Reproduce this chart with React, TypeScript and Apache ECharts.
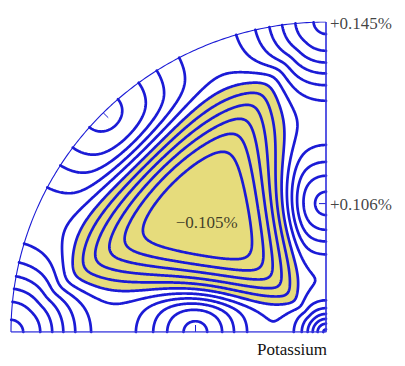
import React, { useEffect, useRef } from "react";
import * as echarts from "echarts";

// ---- values ----
// peaks on the {100} edges of the octant and the [111] minimum (values in %)
const featureNames = ["<100>", "[001]", "[110]", "<011>", "[111]"];
const featureValues = [0.145, 0.145, 0.106, 0.106, -0.105];
const peakWidths = [12.9, 8.9, 15.8, 15.8]; // deg
const peakSharpness = [1.9, 1.5, 1.9, 1.9];
const backgroundValue = 0.008;
const wellRamp = [8, 24]; // deg away from the {100} planes
const wellZWeight = 1.12;
const contourLevels = [0.14, 0.12, 0.1, 0.08, 0.06, 0.04, 0.02, 0, -0.02, -0.04, -0.06, -0.08, -0.1];
const shadedBelowLevel = 0;
const valueLabels = ["+0.145%", "+0.106%", "\u22120.105%"];
const valueLabelDirections = [[0, 1, 0], [0, 1, 1], [1, 1, 1]];
const markedDirections = [[1, 1, 0], [0, 1, 1], [1, 0, 1]];
const materialName = "Potassium";

// ---- geometry ----
const RAD = 180 / Math.PI;
const norm = (d: number[]) => {
  const l = Math.hypot(d[0], d[1], d[2]);
  return [d[0] / l, d[1] / l, d[2] / l];
};
// symmetry copies of each peak
const peakMembers = [
  [[1, 0, 0], [0, 1, 0]],
  [[0, 0, 1]],
  [[1, 1, 0], [1, -1, 0]],
  [[0, 1, 1], [0, 1, -1], [1, 0, 1], [1, 0, -1]],
].map((f) => f.map(norm));
const centres = [[1, 0, 0], [0, 0, 1], [1, 1, 0], [0, 1, 1], [1, 1, 1]].map(norm);

const stereo = (d: number[]) => {
  const n = norm(d);
  return [-n[0] / (1 + n[2]), n[1] / (1 + n[2])];
};
const fromStereo = (u: number, v: number) => {
  const X = -u, Y = v, s = X * X + Y * Y;
  return [(2 * X) / (1 + s), (2 * Y) / (1 + s), (1 - s) / (1 + s)];
};
const peakSum = (k: number, n: number[]) => {
  let s = 0;
  for (const d of peakMembers[k]) {
    const c = Math.min(1, Math.abs(n[0] * d[0] + n[1] * d[1] + n[2] * d[2]));
    const th = Math.acos(c) * RAD;
    s += Math.exp(-Math.pow(th / peakWidths[k], peakSharpness[k]));
  }
  return s;
};
const softplus = (x: number, s: number) => (x / s > 30 ? x : s * Math.log(1 + Math.exp(x / s)));
// how deep into the [111] trough a direction lies (0 on the {100} planes, 1 near [111])
const wellShape = (n: number[]) => {
  const a = Math.abs(n[0]), b = Math.abs(n[1]), c = Math.abs(n[2]) * wellZWeight;
  if (a < 1e-9 || b < 1e-9 || c < 1e-9) return 0;
  const q = 8;
  const m = Math.pow(Math.pow(a, -q) + Math.pow(b, -q) + Math.pow(c, -q), -1 / q);
  const delta = Math.asin(Math.min(1, m)) * RAD;
  const [lo, hi] = wellRamp;
  const h = (softplus(delta - lo, 1.5) - softplus(delta - hi, 0.8)) / (hi - lo);
  return Math.min(1, Math.max(0, h));
};
const basis = (n: number[]) => {
  const h = wellShape(n);
  return [...[0, 1, 2, 3].map((k) => peakSum(k, n) * (1 - h)), -h];
};
const solve = (M: number[][], r: number[]) => {
  const n = r.length;
  const A = M.map((row, i) => [...row, r[i]]);
  for (let c = 0; c < n; c++) {
    let p = c;
    for (let i = c + 1; i < n; i++) if (Math.abs(A[i][c]) > Math.abs(A[p][c])) p = i;
    [A[c], A[p]] = [A[p], A[c]];
    for (let i = 0; i < n; i++) {
      if (i === c) continue;
      const f = A[i][c] / A[c][c];
      for (let j = c; j <= n; j++) A[i][j] -= f * A[c][j];
    }
  }
  return A.map((row, i) => row[n] / row[i]);
};
// amplitudes chosen so that the field equals the values read at the feature centres
const amps = solve(centres.map(basis), featureValues.map((v) => v - backgroundValue));
const field = (u: number, v: number) => {
  const b = basis(fromStereo(u, v));
  let f = backgroundValue;
  for (let k = 0; k < b.length; k++) f += amps[k] * b[k];
  return f;
};

// ---- marching squares ----
const N = 320;
const W = N + 1;
const grid = new Float64Array(W * W);
for (let j = 0; j <= N; j++) for (let i = 0; i <= N; i++) grid[j * W + i] = field(-1 + i / N, j / N);

type Line = { pts: number[][]; closed: boolean };
function traceLevel(L: number): Line[] {
  const nH = N * W;
  const total = nH + W * N;
  const pu = new Float64Array(total), pv = new Float64Array(total);
  const adjA = new Int32Array(total).fill(-1), adjB = new Int32Array(total).fill(-1);
  const s1: number[] = [], s2: number[] = [];
  const val = (i: number, j: number) => grid[j * W + i];
  const H = (i: number, j: number) => {
    const id = j * N + i, a = val(i, j), b = val(i + 1, j), t = (L - a) / (b - a);
    pu[id] = -1 + (i + t) / N; pv[id] = j / N; return id;
  };
  const V = (i: number, j: number) => {
    const id = nH + j * W + i, a = val(i, j), b = val(i, j + 1), t = (L - a) / (b - a);
    pu[id] = -1 + i / N; pv[id] = (j + t) / N; return id;
  };
  const add = (e1: number, e2: number) => {
    const s = s1.length; s1.push(e1); s2.push(e2);
    if (adjA[e1] < 0) adjA[e1] = s; else adjB[e1] = s;
    if (adjA[e2] < 0) adjA[e2] = s; else adjB[e2] = s;
  };
  for (let j = 0; j < N; j++) for (let i = 0; i < N; i++) {
    const a = val(i, j), b = val(i + 1, j), c = val(i + 1, j + 1), d = val(i, j + 1);
    const idx = (a > L ? 1 : 0) | (b > L ? 2 : 0) | (c > L ? 4 : 0) | (d > L ? 8 : 0);
    if (idx === 0 || idx === 15) continue;
    switch (idx) {
      case 1: case 14: add(V(i, j), H(i, j)); break;
      case 2: case 13: add(H(i, j), V(i + 1, j)); break;
      case 3: case 12: add(V(i, j), V(i + 1, j)); break;
      case 4: case 11: add(V(i + 1, j), H(i, j + 1)); break;
      case 6: case 9: add(H(i, j), H(i, j + 1)); break;
      case 7: case 8: add(H(i, j + 1), V(i, j)); break;
      case 5: {
        const m = (a + b + c + d) / 4;
        if (m > L) { add(H(i, j), V(i + 1, j)); add(H(i, j + 1), V(i, j)); }
        else { add(V(i, j), H(i, j)); add(V(i + 1, j), H(i, j + 1)); }
        break;
      }
      case 10: {
        const m = (a + b + c + d) / 4;
        if (m > L) { add(V(i, j), H(i, j)); add(V(i + 1, j), H(i, j + 1)); }
        else { add(H(i, j), V(i + 1, j)); add(H(i, j + 1), V(i, j)); }
        break;
      }
    }
  }
  const used = new Uint8Array(s1.length);
  const out: Line[] = [];
  const walk = (start: number, s: number): Line => {
    const pts = [[pu[start], pv[start]]];
    let cur = start;
    while (s >= 0 && !used[s]) {
      used[s] = 1;
      const nx = s1[s] === cur ? s2[s] : s1[s];
      pts.push([pu[nx], pv[nx]]);
      cur = nx;
      const a = adjA[cur], b = adjB[cur];
      s = a >= 0 && !used[a] ? a : b >= 0 && !used[b] ? b : -1;
    }
    return { pts, closed: cur === start && pts.length > 3 };
  };
  for (let s = 0; s < s1.length; s++) {
    if (used[s]) continue;
    if (adjB[s1[s]] < 0) out.push(walk(s1[s], s));
    else if (adjB[s2[s]] < 0) out.push(walk(s2[s], s));
  }
  for (let s = 0; s < s1.length; s++) if (!used[s]) out.push(walk(s1[s], s));
  return out;
}

const inside = (p: number[]) => p[0] * p[0] + p[1] * p[1] <= 1;
const cross = (p: number[], q: number[]) => {
  const dx = q[0] - p[0], dy = q[1] - p[1];
  const A = dx * dx + dy * dy, B = 2 * (p[0] * dx + p[1] * dy), C = p[0] * p[0] + p[1] * p[1] - 1;
  const disc = Math.sqrt(Math.max(0, B * B - 4 * A * C));
  let t = (-B + disc) / (2 * A);
  if (t < 0 || t > 1) t = (-B - disc) / (2 * A);
  t = Math.min(1, Math.max(0, t));
  return [p[0] + t * dx, p[1] + t * dy];
};
const clipDisk = (pts: number[][]) => {
  const res: number[][][] = [];
  let cur: number[][] = [];
  for (let k = 0; k < pts.length; k++) {
    const q = pts[k];
    if (k === 0) { if (inside(q)) cur.push(q); continue; }
    const p = pts[k - 1];
    const pi = inside(p), qi = inside(q);
    if (pi && qi) cur.push(q);
    else if (pi && !qi) { cur.push(cross(p, q)); if (cur.length > 1) res.push(cur); cur = []; }
    else if (!pi && qi) { cur = [cross(p, q), q]; }
  }
  if (cur.length > 1) res.push(cur);
  return res;
};

const contourLines: number[][][] = [];
const shadedAreas: number[][][] = [];
for (const L of contourLevels) {
  for (const ln of traceLevel(L)) {
    for (const piece of clipDisk(ln.pts)) contourLines.push(piece);
    if (L === shadedBelowLevel && ln.closed && ln.pts.every(inside)) shadedAreas.push(ln.pts);
  }
}

const arcPoints: number[][] = [];
for (let k = 0; k <= 180; k++) {
  const a = (Math.PI / 2) * (k / 180);
  arcPoints.push([-Math.cos(a), Math.sin(a)]);
}

const BLUE = "#1b1bd6";

export default function App() {
  const ref = useRef<HTMLDivElement>(null);
  useEffect(() => {
    if (!ref.current) return;
    const chart = echarts.init(ref.current, undefined, { renderer: "svg" });
    const option: any = {
      animation: false,
      backgroundColor: "#ffffff",
      grid: { left: 11, top: 22, width: 315, height: 310 },
      xAxis: { type: "value", min: -1, max: 0, show: false },
      yAxis: { type: "value", min: 0, max: 1, show: false },
      series: [
        {
          type: "custom",
          clip: false,
          silent: true,
          z: 1,
          data: shadedAreas.map((_, i) => [-0.5, 0.5, i]),
          renderItem: (params: any, api: any) => ({
            type: "polygon",
            shape: { points: shadedAreas[params.dataIndex].map((p) => api.coord(p)) },
            style: { fill: "#e6dc7c", stroke: "none" },
          }),
        },
        {
          type: "custom",
          clip: false,
          silent: true,
          z: 2,
          data: contourLines.map((_, i) => [-0.5, 0.5, i]),
          renderItem: (params: any, api: any) => ({
            type: "polyline",
            shape: { points: contourLines[params.dataIndex].map((p) => api.coord(p)) },
            style: { fill: "none", stroke: BLUE, lineWidth: 2.7, lineJoin: "round", lineCap: "round" },
          }),
        },
        {
          type: "line",
          silent: true,
          z: 3,
          data: arcPoints,
          showSymbol: false,
          lineStyle: { color: BLUE, width: 1.1 },
        },
        {
          type: "line",
          silent: true,
          z: 3,
          data: [[0, 1], [0, 0], [-1, 0]],
          showSymbol: false,
          lineStyle: { color: "#3a3ade", width: 1.7 },
        },
        {
          type: "custom",
          clip: false,
          silent: true,
          z: 3,
          data: markedDirections.map((_, i) => [-0.5, 0.5, i]),
          renderItem: (params: any, api: any) => {
            const uv = stereo(markedDirections[params.dataIndex]);
            const p = api.coord(uv);
            let dir: number[];
            if (Math.abs(uv[0]) < 1e-9) dir = [-1, 0];
            else if (Math.abs(uv[1]) < 1e-9) dir = [0, -1];
            else {
              const o = api.coord([0, 0]);
              const l = Math.hypot(o[0] - p[0], o[1] - p[1]);
              dir = [(o[0] - p[0]) / l, (o[1] - p[1]) / l];
            }
            return {
              type: "line",
              shape: { x1: p[0], y1: p[1], x2: p[0] + 7 * dir[0], y2: p[1] + 7 * dir[1] },
              style: { stroke: BLUE, lineWidth: 1 },
            };
          },
        },
        {
          type: "scatter",
          silent: true,
          z: 5,
          symbolSize: 0,
          data: valueLabelDirections.map((d, i) => ({
            value: [...stereo(d), valueLabels[i]],
            label:
              i < 2
                ? { position: "right", distance: 4, offset: [0, 1] }
                : { position: "inside", offset: [-4, 4] },
          })),
          label: {
            show: true,
            formatter: (p: any) => p.data.value[2],
            fontFamily: "Liberation Serif",
            fontSize: 17,
            color: "#111111",
          },
        },
      ],
      graphic: [
        {
          type: "text",
          x: 327,
          y: 349,
          style: {
            text: materialName,
            align: "right",
            verticalAlign: "middle",
            fontFamily: "Liberation Serif",
            fontSize: 17,
            fill: "#111111",
          },
        },
      ],
    };
    chart.setOption(option);
    return () => chart.dispose();
  }, []);
  return (
    <div
      ref={ref}
      style={{ position: "fixed", left: 0, top: 0, width: 405, height: 366, background: "#fff" }}
    />
  );
}
